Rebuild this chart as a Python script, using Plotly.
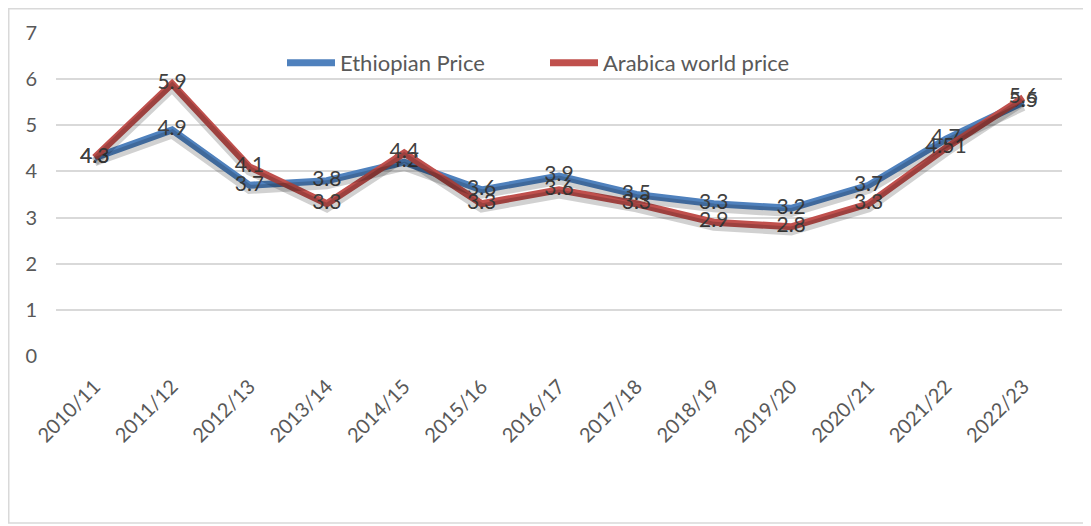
import plotly.graph_objects as go

years = ["2010/11", "2011/12", "2012/13", "2013/14", "2014/15", "2015/16", "2016/17",
         "2017/18", "2018/19", "2019/20", "2020/21", "2021/22", "2022/23"]
ethiopian = [4.3, 4.9, 3.7, 3.8, 4.2, 3.6, 3.9, 3.5, 3.3, 3.2, 3.7, 4.7, 5.5]
arabica = [4.3, 5.9, 4.1, 3.3, 4.4, 3.3, 3.6, 3.3, 2.9, 2.8, 3.3, 4.51, 5.6]
ethiopian_labels = ["4.3", "4.9", "3.7", "3.8", "4.2", "3.6", "3.9", "3.5", "3.3", "3.2", "3.7", "4.7", "5.5"]
arabica_labels = ["4.3", "5.9", "4.1", "3.3", "4.4", "3.3", "3.6", "3.3", "2.9", "2.8", "3.3", "4.51", "5.6"]

BLUE = "#4F81BD"
RED = "#C0504D"
FONT = "Lato"

# page has an 8px body margin; work in page pixels and convert
OFF = 8
W, H = 1091 - OFF, 526 - OFF
PL, PR, PT, PB = 56, 1062, 33, 356  # plot area in page pixels
L, T = PL - OFF, PT - OFF
R, B = W - (PR - OFF), H - (PB - OFF)
pw, ph = (PR - PL), (PB - PT)


def px_x(p):
    return (p - PL) / pw


def px_y(p):
    return (PB - p) / ph


fig = go.Figure()

# soft drop shadows (same data on slightly offset axes)
for vals in (ethiopian, arabica):
    fig.add_trace(go.Scatter(x=years, y=vals, mode="lines", yaxis="y2",
                             line=dict(color="rgba(0,0,0,0.18)", width=9),
                             showlegend=False, hoverinfo="skip"))

fig.add_trace(go.Scatter(x=years, y=ethiopian, mode="lines+text", name="Ethiopian Price",
                         line=dict(color=BLUE, width=7),
                         text=ethiopian_labels, textposition="middle center",
                         textfont=dict(family=FONT, size=21, color="#404040")))
fig.add_trace(go.Scatter(x=years, y=arabica, mode="lines+text", name="Arabica world price",
                         line=dict(color=RED, width=7),
                         text=arabica_labels, textposition="middle center",
                         textfont=dict(family=FONT, size=21, color="#404040")))

fig.update_layout(
    width=W, height=H,
    margin=dict(l=L, r=R, t=T, b=B),
    paper_bgcolor="white", plot_bgcolor="white",
    font=dict(family=FONT, color="#595959"),
    xaxis=dict(type="category", showgrid=False, zeroline=False, showline=False,
               tickangle=-45, tickfont=dict(size=20, color="#595959"),
               ticks="", range=[-0.5, len(years) - 0.5], ticklabelstandoff=14),
    yaxis=dict(range=[0, 7], dtick=1, showgrid=True, gridcolor="#D9D9D9", gridwidth=2,
               zeroline=False, showline=False, tickfont=dict(size=20, color="#595959"),
               ticks="", ticklabelstandoff=18),
    yaxis2=dict(range=[0.09, 7.09], overlaying="y", visible=False),
    legend=dict(orientation="h", x=px_x(282), xanchor="left", y=px_y(63), yanchor="middle",
                font=dict(size=22, color="#595959"), bgcolor="rgba(0,0,0,0)",
                entrywidth=200, itemwidth=48),
    showlegend=True,
    shapes=[dict(type="rect", xref="paper", yref="paper",
                 x0=px_x(OFF + 0.75), x1=px_x(1088), y0=px_y(523), y1=px_y(OFF + 0.75),
                 line=dict(color="#D9D9D9", width=1.5), fillcolor="rgba(0,0,0,0)",
                 layer="below")],
)

fig.write_html("out.html")
